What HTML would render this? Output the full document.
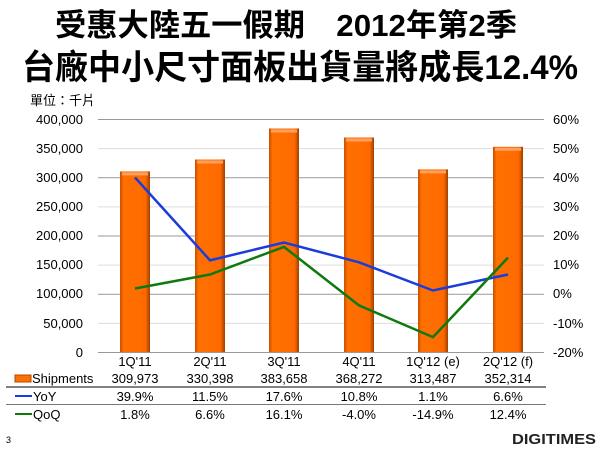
<!DOCTYPE html>
<html><head><meta charset="utf-8"><style>
html,body{margin:0;padding:0;background:#fff;width:600px;height:450px;overflow:hidden}
text{font-family:"Liberation Sans","Noto Sans CJK TC",sans-serif}
</style></head><body>
<svg width="600" height="450" viewBox="0 0 600 450" xmlns="http://www.w3.org/2000/svg">
<defs>
<linearGradient id="bg" x1="0" x2="1" y1="0" y2="0">
<stop offset="0" stop-color="#c85000"/><stop offset="0.12" stop-color="#ff7000"/><stop offset="0.85" stop-color="#ff6a00"/><stop offset="1" stop-color="#a04000"/>
</linearGradient>
</defs>
<text x="286" y="36" font-size="31" font-weight="bold" text-anchor="middle" textLength="462" lengthAdjust="spacingAndGlyphs">受惠大陸五一假期　2012年第2季</text>
<text x="300" y="79" font-size="34" font-weight="bold" text-anchor="middle" textLength="556" lengthAdjust="spacingAndGlyphs">台廠中小尺寸面板出貨量將成長12.4%</text>
<text x="30" y="105" font-size="13">單位：千片</text>
<g stroke-width="1">
<line x1="98" x2="544" y1="119.5" y2="119.5" stroke="#999"/>
<line x1="98" x2="544" y1="148.6" y2="148.6" stroke="#ddd"/>
<line x1="98" x2="544" y1="177.7" y2="177.7" stroke="#999"/>
<line x1="98" x2="544" y1="206.9" y2="206.9" stroke="#ddd"/>
<line x1="98" x2="544" y1="236" y2="236" stroke="#999"/>
<line x1="98" x2="544" y1="265.1" y2="265.1" stroke="#ddd"/>
<line x1="98" x2="544" y1="294.2" y2="294.2" stroke="#999"/>
<line x1="98" x2="544" y1="323.4" y2="323.4" stroke="#ddd"/>
<line x1="98" x2="544" y1="352.5" y2="352.5" stroke="#999"/>
</g>
<g font-size="13" text-anchor="end" fill="#000">
<text x="83" y="124">400,000</text><text x="83" y="153">350,000</text><text x="83" y="182">300,000</text>
<text x="83" y="211">250,000</text><text x="83" y="240">200,000</text><text x="83" y="269">150,000</text>
<text x="83" y="298">100,000</text><text x="83" y="328">50,000</text><text x="83" y="357">0</text>
</g>
<g font-size="13" fill="#000">
<text x="553" y="124">60%</text><text x="553" y="153">50%</text><text x="553" y="182">40%</text>
<text x="553" y="211">30%</text><text x="553" y="240">20%</text><text x="553" y="269">10%</text>
<text x="553" y="298">0%</text><text x="553" y="328">-10%</text><text x="553" y="357">-20%</text>
</g>
<g fill="url(#bg)">
<rect x="120" y="171.4" width="30" height="180.6"/>
<rect x="195" y="159.5" width="30" height="192.5"/>
<rect x="269" y="128.5" width="30" height="223.5"/>
<rect x="344" y="137.5" width="30" height="214.5"/>
<rect x="418" y="169.4" width="30" height="182.6"/>
<rect x="493" y="146.8" width="30" height="205.2"/>
</g>
<g fill="#ffa060">
<rect x="122" y="172.4" width="26" height="3"/><rect x="197" y="160.5" width="26" height="3"/>
<rect x="271" y="129.5" width="26" height="3"/><rect x="346" y="138.5" width="26" height="3"/>
<rect x="420" y="170.4" width="26" height="3"/><rect x="495" y="147.8" width="26" height="3"/>
</g>
<polyline fill="none" stroke="#1a3cdc" stroke-width="2.5" points="135,177.5 210,260.3 284,242.5 359,262.3 433,290.5 508,274.5"/>
<polyline fill="none" stroke="#0e7a0e" stroke-width="2.5" points="135,288.5 210,274.5 284,246.9 359,305.4 433,337.1 508,257.6"/>
<g font-size="13" text-anchor="middle" fill="#000">
<text x="135" y="366">1Q'11</text><text x="210" y="366">2Q'11</text><text x="284" y="366">3Q'11</text>
<text x="359" y="366">4Q'11</text><text x="433" y="366">1Q'12 (e)</text><text x="508" y="366">2Q'12 (f)</text>
<text x="135" y="383">309,973</text><text x="210" y="383">330,398</text><text x="284" y="383">383,658</text>
<text x="359" y="383">368,272</text><text x="433" y="383">313,487</text><text x="508" y="383">352,314</text>
<text x="135" y="401">39.9%</text><text x="210" y="401">11.5%</text><text x="284" y="401">17.6%</text>
<text x="359" y="401">10.8%</text><text x="433" y="401">1.1%</text><text x="508" y="401">6.6%</text>
<text x="135" y="419">1.8%</text><text x="210" y="419">6.6%</text><text x="284" y="419">16.1%</text>
<text x="359" y="419">-4.0%</text><text x="433" y="419">-14.9%</text><text x="508" y="419">12.4%</text>
</g>
<line x1="6" x2="546" y1="387" y2="387" stroke="#000"/>
<line x1="6" x2="546" y1="404.5" y2="404.5" stroke="#777"/>
<rect x="15" y="375" width="16" height="7" fill="#ff7000" stroke="#b04800"/>
<text x="32" y="383" font-size="13">Shipments</text>
<line x1="15" x2="32" y1="396" y2="396" stroke="#1a3cdc" stroke-width="2"/>
<text x="33" y="401" font-size="13">YoY</text>
<line x1="15" x2="32" y1="414" y2="414" stroke="#0e7a0e" stroke-width="2"/>
<text x="33" y="419" font-size="13">QoQ</text>
<text x="6" y="443" font-size="9" font-family="Liberation Serif">3</text>
<text x="596" y="444" font-size="15" font-weight="bold" text-anchor="end" fill="#222" textLength="84" lengthAdjust="spacingAndGlyphs">DIGITIMES</text>
</svg>
</body></html>
